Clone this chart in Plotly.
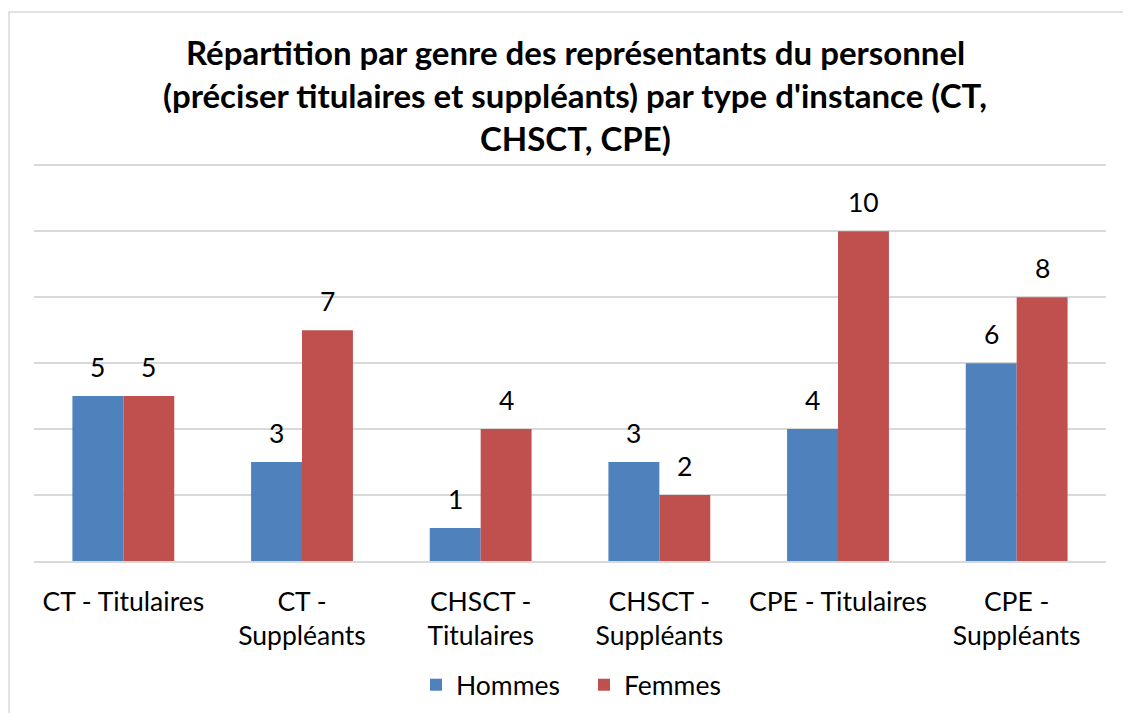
import plotly.graph_objects as go

categories = ["CT - Titulaires", "CT -<br>Suppléants", "CHSCT -<br>Titulaires",
              "CHSCT -<br>Suppléants", "CPE - Titulaires", "CPE -<br>Suppléants"]
hommes = [5, 3, 1, 3, 4, 6]
femmes = [5, 7, 4, 2, 10, 8]
series_names = ["Hommes", "Femmes"]
colors = ["#4F81BD", "#C0504D"]
title_lines = ["Répartition par genre des représentants du personnel",
               "(préciser titulaires et suppléants) par type d'instance (CT,",
               "CHSCT, CPE)"]

W, H = 1131, 713
L, R, T, B = 26, 33, 154, 160
pw, ph = W - L - R, H - T - B
D = 8  # page body offset

FONT = "Lato"
FS = 26.5
fig = go.Figure()
for name, vals, col in zip(series_names, [hommes, femmes], colors):
    fig.add_trace(go.Bar(x=categories, y=vals, name=name, marker_color=col,
                         marker_line_width=0))

annotations = []
cat_w = pw / len(categories)
bar_w = cat_w * (1 - 0.43) / 2
for i, vals in enumerate([hommes, femmes]):
    shift = (-0.5 if i == 0 else 0.5) * bar_w
    for c, v in zip(categories, vals):
        annotations.append(dict(x=c, y=v, xref="x", yref="y", text=str(v),
                                showarrow=False, xshift=shift, yanchor="bottom",
                                yshift=11, font=dict(size=FS, color="#000000", family=FONT)))

line_px = [52, 95, 138]
for txt, py in zip(title_lines, line_px):
    annotations.append(dict(x=(575 - D - L) / pw, y=(H - B - (py - D)) / ph,
                            xref="paper", yref="paper",
                            text="<b>" + txt + "</b>", showarrow=False,
                            xanchor="center", yanchor="middle",
                            font=dict(size=33, color="#000000", family=FONT)))

fig.update_layout(
    width=W, height=H,
    margin=dict(l=L, r=R, t=T, b=B, pad=0),
    paper_bgcolor="white", plot_bgcolor="white",
    barmode="group", bargap=0.43, bargroupgap=0,
    font=dict(family=FONT, size=FS, color="#000000"),
    showlegend=True,
    legend=dict(orientation="h", x=(584 - D - L) / pw, xanchor="center",
                y=(H - B - (685 - D)) / ph,
                yanchor="middle", font=dict(size=FS, family=FONT),
                itemwidth=30, entrywidth=123, traceorder="normal"),
    annotations=annotations,
    shapes=[dict(type="rect", xref="paper", yref="paper",
                 x0=(1 - L) / pw, x1=(1400 - L) / pw,
                 y0=(H - B - 900) / ph, y1=(H - B - 4) / ph,
                 line=dict(color="#D9D9D9", width=1.5), fillcolor="rgba(0,0,0,0)",
                 layer="below")],
)
fig.update_xaxes(showline=True, linecolor="#D9D9D9", linewidth=1.5,
                 ticks="outside", ticklen=16, tickcolor="rgba(0,0,0,0)",
                 tickfont=dict(size=FS, family=FONT, color="#000000"))
fig.update_yaxes(range=[0, 12.1], dtick=2, showticklabels=False,
                 showgrid=True, gridcolor="#D9D9D9", gridwidth=1.5,
                 zeroline=False, showline=False)

fig.write_html("out.html")
